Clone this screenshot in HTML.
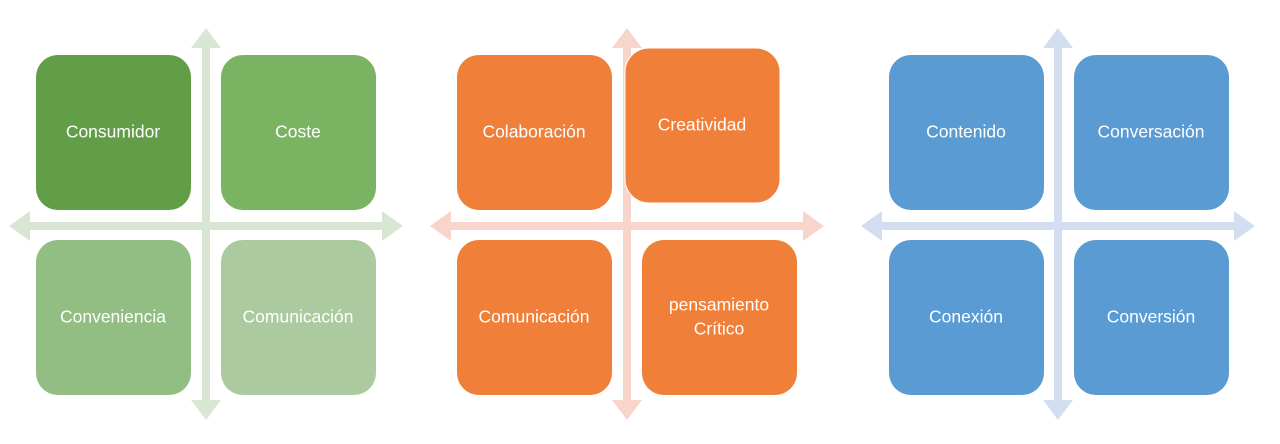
<!DOCTYPE html>
<html><head><meta charset="utf-8"><style>
html,body{margin:0;padding:0;background:#fff;}
svg{display:block;}
text{font-family:"Liberation Sans",sans-serif;font-size:17.5px;fill:#fff;text-anchor:middle;dominant-baseline:middle;}
</style></head><body>
<svg width="1280" height="444" viewBox="0 0 1280 444" xmlns="http://www.w3.org/2000/svg">
<defs>
<g id="cross">
<polygon points="-4,-178 -4,-4 -176,-4 -176,-15 -197,0 -176,15 -176,4 -4,4 -4,174 -15,174 0,194 15,174 4,174 4,4 176,4 176,15 197,0 176,-15 176,-4 4,-4 4,-178 15,-178 0,-198 -15,-178"/>
</g>
</defs>
<use href="#cross" transform="translate(206,226)" fill="#D9E6D3"/>
<rect x="36" y="55" width="155" height="155" rx="22" fill="#629D47"/>
<rect x="221" y="55" width="155" height="155" rx="22" fill="#7AB462"/>
<rect x="36" y="240" width="155" height="155" rx="22" fill="#92BE83"/>
<rect x="221" y="240" width="155" height="155" rx="22" fill="#ACCA9F"/>
<text x="113" y="133">Consumidor</text>
<text x="298" y="133">Coste</text>
<text x="113" y="318">Conveniencia</text>
<text x="298" y="318">Comunicación</text>
<use href="#cross" transform="translate(627,226)" fill="#F8D5CB"/>
<rect x="457" y="55" width="155" height="155" rx="22" fill="#EF7F39"/>
<rect x="625" y="48" width="155" height="155" rx="24" fill="#EF7F39" stroke="#fff" stroke-width="1"/>
<rect x="457" y="240" width="155" height="155" rx="22" fill="#EF7F39"/>
<rect x="642" y="240" width="155" height="155" rx="22" fill="#EF7F39"/>
<text x="534" y="133">Colaboración</text>
<text x="702" y="126">Creatividad</text>
<text x="534" y="318">Comunicación</text>
<text x="719" y="306">pensamiento</text>
<text x="719" y="330">Crítico</text>
<use href="#cross" transform="translate(1058,226)" fill="#D3DEF0"/>
<rect x="889" y="55" width="155" height="155" rx="22" fill="#5A9BD3"/>
<rect x="1074" y="55" width="155" height="155" rx="22" fill="#5A9BD3"/>
<rect x="889" y="240" width="155" height="155" rx="22" fill="#5A9BD3"/>
<rect x="1074" y="240" width="155" height="155" rx="22" fill="#5A9BD3"/>
<text x="966" y="133">Contenido</text>
<text x="1151" y="133">Conversación</text>
<text x="966" y="318">Conexión</text>
<text x="1151" y="318">Conversión</text>
</svg>
</body></html>
